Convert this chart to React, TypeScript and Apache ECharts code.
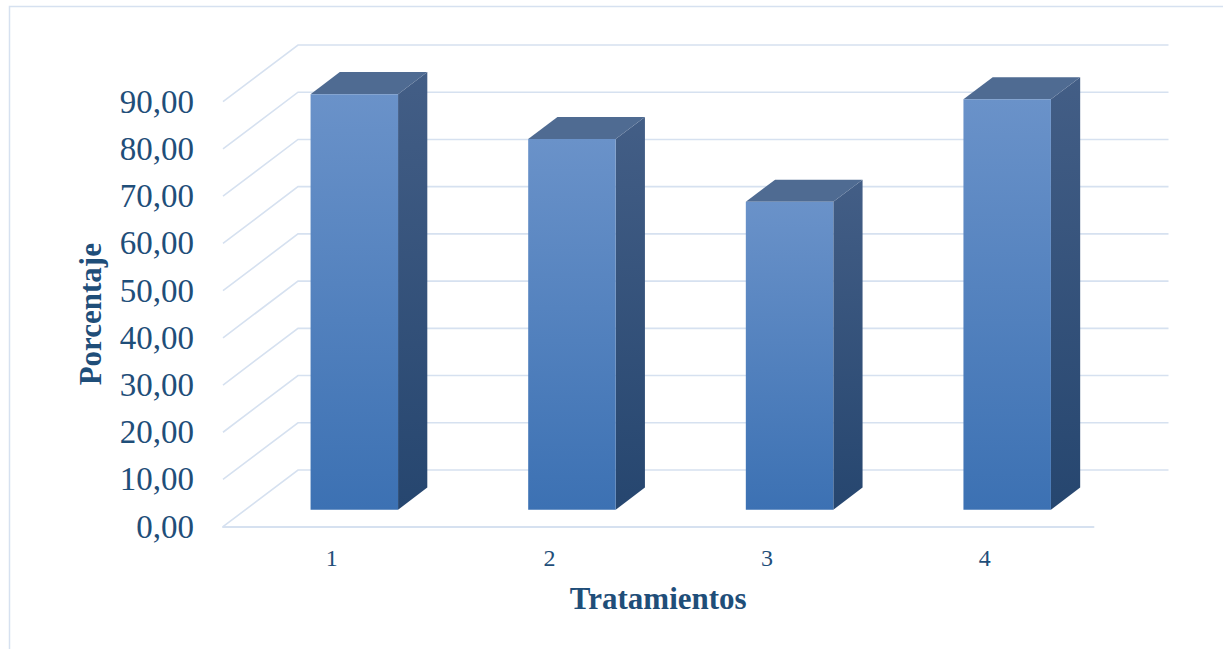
import React, { useEffect, useRef } from "react";
import * as echarts from "echarts";

// Treatments on the horizontal axis and their percentage values
const categories: string[] = ["1", "2", "3", "4"];
const values: number[] = [88.0, 78.5, 65.2, 86.9];
// Value-axis ticks (0 to 90, step 10)
const yTicks: number[] = [0, 10, 20, 30, 40, 50, 60, 70, 80, 90];

// Oblique projection of the depth axis (pixels for the full floor depth)
const DEPTH_DX = 75;
const DEPTH_DY = -56.7;
// Bar placement within the depth (fractions) and width within the band
const BAR_D0 = 0.3;
const BAR_D1 = 0.69;
const BAR_WIDTH_RATIO = 0.402;

const TEXT_COLOR = "#1f4e79";
const GRID_COLOR = "#d6e1f0";
const FONT = "'Liberation Serif', 'Times New Roman', serif";

export default function App() {
  const ref = useRef<HTMLDivElement>(null);

  useEffect(() => {
    if (!ref.current) return;
    const chart = echarts.init(ref.current, null, { renderer: "svg" });

    const gridItem = (params: any, api: any) => {
      const cs = params.coordSys;
      const v = api.value(1);
      const y = api.coord([0, v])[1];
      const x0 = cs.x;
      const x1 = cs.x + cs.width;
      return {
        type: "polyline",
        shape: {
          points: [
            [x0, y],
            [x0 + DEPTH_DX, y + DEPTH_DY],
            [x1 + DEPTH_DX, y + DEPTH_DY],
          ],
        },
        style: { stroke: GRID_COLOR, lineWidth: 1.6, fill: "none" },
        silent: true,
      };
    };

    const barItem = (params: any, api: any) => {
      const idx = api.value(0);
      const v = api.value(1);
      const base = api.coord([idx, 0]);
      const top = api.coord([idx, v]);
      const band = api.size([1, 0])[0];
      const bw = band * BAR_WIDTH_RATIO;
      const fx = DEPTH_DX * BAR_D0;
      const fy = DEPTH_DY * BAR_D0;
      const bx = DEPTH_DX * BAR_D1;
      const by = DEPTH_DY * BAR_D1;
      const left = base[0] - bw / 2;
      const right = base[0] + bw / 2;
      const yTop = top[1];
      const yBase = base[1];

      const frontTL = [left + fx, yTop + fy];
      const frontTR = [right + fx, yTop + fy];
      const frontBR = [right + fx, yBase + fy];
      const backTL = [left + bx, yTop + by];
      const backTR = [right + bx, yTop + by];
      const backBR = [right + bx, yBase + by];

      return {
        type: "group",
        children: [
          {
            type: "polygon",
            shape: { points: [frontTR, backTR, backBR, frontBR] },
            style: {
              fill: new echarts.graphic.LinearGradient(0, 0, 0, 1, [
                { offset: 0, color: "#435e86" },
                { offset: 1, color: "#26466f" },
              ]),
            },
          },
          {
            type: "polygon",
            shape: { points: [frontTL, frontTR, backTR, backTL] },
            style: { fill: "#4f6b92" },
          },
          {
            type: "rect",
            shape: {
              x: left + fx,
              y: yTop + fy,
              width: bw,
              height: yBase - yTop,
            },
            style: {
              fill: new echarts.graphic.LinearGradient(0, 0, 0, 1, [
                { offset: 0, color: "#6a92c9" },
                { offset: 1, color: "#3c71b3" },
              ]),
            },
          },
        ],
      };
    };

    chart.setOption({
      animation: false,
      backgroundColor: "#ffffff",
      graphic: [
        {
          type: "rect",
          shape: { x: 9.5, y: 6.5, width: 1400, height: 800 },
          style: { fill: "none", stroke: GRID_COLOR, lineWidth: 1.5 },
          silent: true,
          z: -10,
        },
      ],
      grid: { left: 223, right: 129.5, top: 101.7, bottom: 122.3 },
      xAxis: {
        type: "category",
        data: categories,
        boundaryGap: true,
        axisLine: { show: true, lineStyle: { color: GRID_COLOR, width: 2 } },
        axisTick: { show: false },
        axisLabel: {
          margin: 19,
          color: TEXT_COLOR,
          fontFamily: FONT,
          fontSize: 24,
        },
        name: "Tratamientos",
        nameLocation: "middle",
        nameGap: 56,
        nameTextStyle: {
          color: TEXT_COLOR,
          fontFamily: FONT,
          fontWeight: "bold",
          fontSize: 31,
        },
        splitLine: { show: false },
      },
      yAxis: {
        type: "value",
        min: 0,
        max: 90,
        interval: 10,
        axisLine: { show: false },
        axisTick: { show: false },
        splitLine: { show: false },
        axisLabel: {
          margin: 29,
          color: TEXT_COLOR,
          fontFamily: FONT,
          fontSize: 33,
          formatter: (v: number) => v.toFixed(2).replace(".", ","),
        },
        name: "Porcentaje",
        nameLocation: "middle",
        nameRotate: 90,
        nameGap: 117,
        nameTextStyle: {
          color: TEXT_COLOR,
          fontFamily: FONT,
          fontWeight: "bold",
          fontSize: 31,
        },
      },
      series: [
        {
          type: "custom",
          name: "grid3d",
          clip: false,
          silent: true,
          z: 1,
          renderItem: gridItem,
          data: yTicks.map((t) => [0, t]),
        },
        {
          type: "custom",
          name: "Porcentaje",
          clip: false,
          z: 2,
          renderItem: barItem,
          data: values.map((v, i) => [i, v]),
        },
      ],
    });

    return () => chart.dispose();
  }, []);

  return (
    <div
      ref={ref}
      style={{ position: "fixed", left: 0, top: 0, width: 1223, height: 649 }}
    />
  );
}
